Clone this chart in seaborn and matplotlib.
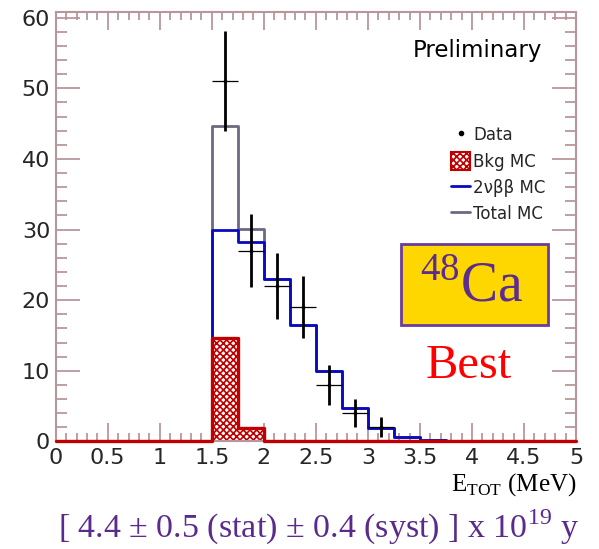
import numpy as np
import matplotlib
matplotlib.use("Agg")
import matplotlib.pyplot as plt
from matplotlib.lines import Line2D
from matplotlib.patches import Patch, Rectangle
from matplotlib.ticker import MultipleLocator
import seaborn as sns

# ---- data ----
bin_edges = [i * 0.25 for i in range(21)]
two_nu = [0, 0, 0, 0, 0, 0, 30.0, 28.2, 23.0, 16.5, 9.9, 4.7, 1.9, 0.6, 0.2, 0, 0, 0, 0, 0]
bkg = [0, 0, 0, 0, 0, 0, 14.6, 1.9, 0.05, 0.05, 0.05, 0.05, 0, 0, 0, 0, 0, 0, 0, 0]
data_x = [1.625, 1.875, 2.125, 2.375, 2.625, 2.875, 3.125]
data_y = [51, 27, 22, 19, 8, 4, 2]
data_err = [7.1, 5.2, 4.7, 4.4, 2.8, 2.0, 1.4]
data_xerr = [0.125] * 7
xticks = [0, 0.5, 1, 1.5, 2, 2.5, 3, 3.5, 4, 4.5, 5]
xticklabels = ["0", "0.5", "1", "1.5", "2", "2.5", "3", "3.5", "4", "4.5", "5"]
yticks = [0, 10, 20, 30, 40, 50, 60]

total = [a + b for a, b in zip(two_nu, bkg)]
centers = [(bin_edges[i] + bin_edges[i + 1]) / 2 for i in range(20)]

sns.set_style("white")
plt.rcParams['font.family'] = ['DejaVu Sans']
plt.rcParams['hatch.linewidth'] = 1.2

RED = "#c00000"
BLUE = "#0a0ac0"
GRAY = "#6a6a82"
FRAME = "#b8969c"
PURPLE = "#5a2a8c"

fig = plt.figure(figsize=(5.99, 5.49), dpi=100)
ax = fig.add_axes([0.093, 0.196, 0.8686, 0.782])

sns.histplot(x=centers, weights=total, bins=bin_edges, element="step", fill=False,
             color=GRAY, linewidth=2.0, ax=ax)
sns.histplot(x=centers, weights=two_nu, bins=bin_edges, element="step", fill=False,
             color=BLUE, linewidth=2.0, ax=ax)
sns.histplot(x=centers, weights=bkg, bins=bin_edges, element="step", fill=True,
             color=RED, linewidth=0, alpha=1, ax=ax)
poly = ax.collections[-1]
poly.set_facecolor("white")
poly.set_edgecolor(RED)
poly.set_hatch("xxxxx")
sns.histplot(x=centers, weights=bkg, bins=bin_edges, element="step", fill=False,
             color=RED, linewidth=2.4, ax=ax)
ax.lines[-1].set_clip_on(False)
ax.lines[-1].set_zorder(4)

# data points
ax.errorbar(data_x, data_y, xerr=data_xerr, fmt="none", ecolor="black", elinewidth=0.9, zorder=5)
ax.errorbar(data_x, data_y, yerr=data_err, fmt="none", ecolor="black", elinewidth=2.0, zorder=6)
ax.plot(data_x, data_y, ls="none", marker="s", ms=2, color="black", zorder=7)

ax.set_xlim(0, 5)
ax.set_ylim(0, 60.8)
ax.set_xticks(xticks)
ax.set_xticklabels(xticklabels)
ax.set_yticks(yticks)
ax.xaxis.set_minor_locator(MultipleLocator(0.1))
ax.yaxis.set_minor_locator(MultipleLocator(2))
ax.set_ylabel("")
ax.set_xlabel("")
for s in ax.spines.values():
    s.set_color(FRAME)
    s.set_linewidth(1.5)
ax.tick_params(which="both", direction="in", top=True, right=True, bottom=True, left=True,
               color=FRAME, width=1.3)
ax.tick_params(axis="x", which="major", length=13, labelsize=16, pad=5)
ax.tick_params(axis="x", which="minor", length=6)
ax.tick_params(axis="y", which="major", length=17, labelsize=16, pad=4)
ax.tick_params(axis="y", which="minor", length=8)

# legend
handles = [
    Line2D([], [], ls="none", marker="o", ms=3, color="black"),
    Patch(facecolor="white", edgecolor=RED, hatch="xxxxx", lw=1.5),
    Line2D([], [], color=BLUE, lw=2),
    Line2D([], [], color=GRAY, lw=2),
]
labels = ["Data", "Bkg MC", "2νββ MC", "Total MC"]
leg = ax.legend(handles, labels, loc="upper left", bbox_to_anchor=(443 / 599, 1 - 118 / 549),
                bbox_transform=fig.transFigure, frameon=False, fontsize=12,
                handlelength=1.1, handleheight=1.2, handletextpad=0.2, labelspacing=0.48,
                borderpad=0)

fig.text(477.5 / 599, 1 - 50 / 549, "Preliminary", ha="center", va="center", fontsize=16.5,
         color="black")

# 48Ca box
fig.patches.append(Rectangle((400.7 / 599, 1 - 325 / 549), (548.3 - 400.7) / 599, (325 - 244) / 549,
                             transform=fig.transFigure, facecolor="#ffd700", edgecolor="#6a3d9a",
                             lw=2, zorder=3))
fig.text(472 / 599, 1 - 287 / 549, r"$^{\mathregular{48}}$Ca", ha="center", va="center",
         fontsize=40, color="#5b2d90", family="Liberation Serif", zorder=4)

fig.text(469 / 599, 1 - 366 / 549, "Best", ha="center", va="center", fontsize=35,
         color="#ff0000", family="Liberation Serif")

fig.text(576 / 599, 1 - 485 / 549, r"E$_{\mathregular{TOT}}$ (MeV)", ha="right", va="center",
         fontsize=18, color="black", family="Liberation Serif")

fig.text(319 / 599, 1 - 527 / 549, r"[ 4.4 ± 0.5 (stat) ± 0.4 (syst) ] x 10$^{\mathregular{19}}$ y",
         ha="center", va="center", fontsize=24.5, color=PURPLE, family="Liberation Serif")

fig.savefig("out.png", dpi=100)
